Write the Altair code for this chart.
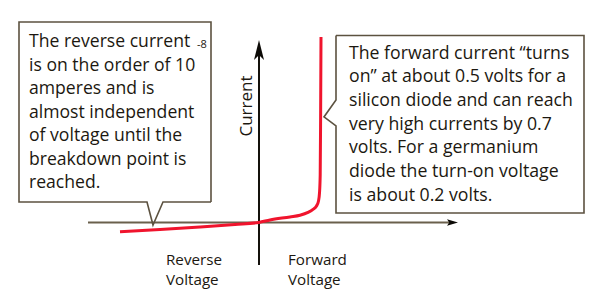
import altair as alt
import pandas as pd

# Diode I-V characteristic (arbitrary current units, volts on x)
voltage = [-1.39, -0.99, -0.59, -0.24, 0.0, 0.11, 0.31, 0.41, 0.49, 0.54, 0.575, 0.595,
           0.605, 0.612, 0.616, 0.62]
current = [-0.92, -0.70, -0.45, -0.20, 0.0, 0.25, 0.55, 0.72, 1.0, 1.3, 1.65, 2.15,
           2.95, 4.75, 10.25, 18.55]

reverse_note = [
    "The reverse current",
    "is on the order of 10",
    "amperes and is",
    "almost independent",
    "of voltage until the",
    "breakdown point is",
    "reached.",
]
forward_note = [
    "The forward current \u201cturns",
    "on\u201d at about 0.5 volts for a",
    "silicon diode and can reach",
    "very high currents by 0.7",
    "volts. For a germanium",
    "diode the turn-on voltage",
    "is about 0.2 volts.",
]

W, H = 600, 308
FONT = "Open Sans"
INK = "#1c1810"
FRAME = "#5c5240"

xs = alt.Scale(domain=[-2.59, 3.41], nice=False, zero=False)
ys = alt.Scale(domain=[-8.555, 22.245], nice=False, zero=False)


def X(f="v"):
    return alt.X(f"{f}:Q", scale=xs, axis=None)


def Y(f="i"):
    return alt.Y(f"{f}:Q", scale=ys, axis=None)


# axes drawn as arrows through the origin
h_axis = alt.Chart(pd.DataFrame({"v": [-1.71], "v2": [1.90], "i": [0.0]})).mark_rule(
    color="#6a604c", strokeWidth=2
).encode(x=X(), x2="v2:Q", y=Y())
v_axis = alt.Chart(pd.DataFrame({"v": [0.0], "i": [-4.25], "i2": [17.0]})).mark_rule(
    color="#14110c", strokeWidth=2
).encode(x=X(), y=Y(), y2="i2:Q")

up_head = alt.Chart(pd.DataFrame({"v": [0.0], "i": [18.25]})).mark_point(
    shape="M0,0L0.5,2L0,1.5L-0.5,2Z", filled=True, opacity=1, color="#0c0a06", size=400
).encode(x=X(), y=Y())
right_head = alt.Chart(pd.DataFrame({"v": [1.99], "i": [0.0]})).mark_point(
    shape="M0,0L-2,-0.6L-1.6,0L-2,0.6Z", filled=True, opacity=1, color="#0c0a06", size=121
).encode(x=X(), y=Y())

curve = alt.Chart(pd.DataFrame({"v": voltage, "i": current})).mark_line(
    color="#f0142d", strokeWidth=3, interpolate="monotone"
).encode(x=X(), y=Y())

# callout frames with their pointers, traced as closed outlines
left_box = [(-0.48, 2.05), (-0.96, 2.05), (-1.06, -0.25), (-1.12, 2.05), (-2.40, 2.05),
            (-2.40, 20.05), (-0.48, 20.05), (-0.48, 2.05)]
right_box = [(0.77, 18.7), (3.25, 18.7), (3.25, 0.95), (0.77, 0.95), (0.77, 9.65),
             (0.65, 10.55), (0.77, 12.25), (0.77, 18.7)]
rows = []
for name, pts in (("reverse", left_box), ("forward", right_box)):
    for k, (v, i) in enumerate(pts):
        rows.append({"box": name, "seq": k, "v": v, "i": i})
frames = alt.Chart(pd.DataFrame(rows)).mark_line(
    color=FRAME, strokeWidth=1.6, strokeJoin="miter"
).encode(x=X(), y=Y(), detail="box:N", order="seq:Q")


def block(lines, x, y, size, lh, angle=None, align="left", baseline="alphabetic"):
    kw = dict(font=FONT, fontSize=size, color=INK, align=align, baseline=baseline,
              lineBreak="\n", lineHeight=lh)
    if angle is not None:
        kw["angle"] = angle
    return alt.Chart(pd.DataFrame({"t": ["\n".join(lines)]})).mark_text(**kw).encode(
        text="t:N", x=alt.value(x), y=alt.value(y)
    )


left_text = block(reverse_note, 29, 47, 17.6, 23.5)
exponent = block(["-8"], 197, 48, 11, 12)
right_text = block(forward_note, 349, 58.5, 17.7, 23.7)
current_lbl = block(["Current"], 247, 106, 17, 20, angle=270, align="center", baseline="middle")
rev_lbl = block(["Reverse", "Voltage"], 166, 265, 15.2, 20)
fwd_lbl = block(["Forward", "Voltage"], 288, 265, 15.2, 20)

chart = alt.layer(
    h_axis, v_axis, up_head, right_head, curve, frames,
    left_text, exponent, right_text, current_lbl, rev_lbl, fwd_lbl,
).properties(
    width=W, height=H, padding=0, autosize=alt.AutoSizeParams(type="none"), background="white"
).configure_view(stroke=None)

chart.save("out.html", embed_options={"renderer": "svg", "actions": False})
